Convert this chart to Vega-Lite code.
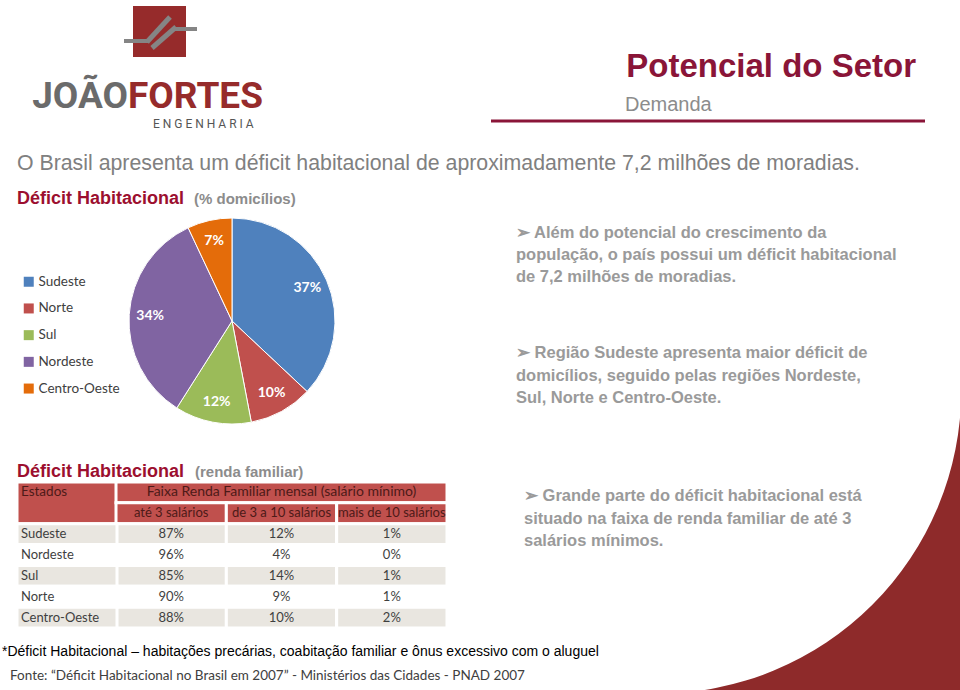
{
  "$schema": "https://vega.github.io/schema/vega-lite/v6.json",
  "padding": 0,
  "bounds": "flush",
  "spacing": 0,
  "background": "white",
  "config": {"view": {"stroke": null}, "concat": {"spacing": 0}, "text": {"font": "Liberation Sans"}},
  "datasets": {
    "regioes": [
      {"regiao": "Sudeste", "valor": 0.37, "ordem": 1},
      {"regiao": "Norte", "valor": 0.10, "ordem": 2},
      {"regiao": "Sul", "valor": 0.12, "ordem": 3},
      {"regiao": "Nordeste", "valor": 0.34, "ordem": 4},
      {"regiao": "Centro-Oeste", "valor": 0.07, "ordem": 5}
    ],
    "tabela": [
      {"estado": "Sudeste", "ate3": 0.87, "de3a10": 0.12, "mais10": 0.01},
      {"estado": "Nordeste", "ate3": 0.96, "de3a10": 0.04, "mais10": 0.00},
      {"estado": "Sul", "ate3": 0.85, "de3a10": 0.14, "mais10": 0.01},
      {"estado": "Norte", "ate3": 0.90, "de3a10": 0.09, "mais10": 0.01},
      {"estado": "Centro-Oeste", "ate3": 0.88, "de3a10": 0.10, "mais10": 0.02}
    ],
    "cabecalho": [
      {"rotulo": "Estados", "c1": "Estados", "c2": "Estados", "r1": "h1", "r2": "h2", "ct": "Estados"},
      {"rotulo": "Faixa Renda Familiar mensal (salário mínimo)", "c1": "ate3", "c2": "mais10", "r1": "h1", "r2": "h1", "ct": "de3a10"},
      {"rotulo": "até 3 salários", "c1": "ate3", "c2": "ate3", "r1": "h2", "r2": "h2", "ct": "ate3"},
      {"rotulo": "de 3 a 10 salários", "c1": "de3a10", "c2": "de3a10", "r1": "h2", "r2": "h2", "ct": "de3a10"},
      {"rotulo": "mais de 10 salários", "c1": "mais10", "c2": "mais10", "r1": "h2", "r2": "h2", "ct": "mais10"}
    ]
  },
  "vconcat": [
    {
      "width": 960,
      "height": 224,
      "layer": [
        {"data": {"values": [{}]}, "mark": {"type": "rect", "color": "#962B2B"},
         "encoding": {"x": {"value": 133}, "x2": {"value": 186}, "y": {"value": 6}, "y2": {"value": 57}}},
        {"data": {"values": [{}]}, "mark": {"type": "rule", "color": "#858585", "strokeWidth": 4, "strokeCap": "butt"},
         "encoding": {"x": {"value": 124}, "x2": {"value": 149}, "y": {"value": 41}, "y2": {"value": 41}}},
        {"data": {"values": [{}]}, "mark": {"type": "rule", "color": "#858585", "strokeWidth": 5, "strokeCap": "butt"},
         "encoding": {"x": {"value": 147}, "x2": {"value": 170}, "y": {"value": 42}, "y2": {"value": 17}}},
        {"data": {"values": [{}]}, "mark": {"type": "rule", "color": "#858585", "strokeWidth": 5, "strokeCap": "butt"},
         "encoding": {"x": {"value": 152}, "x2": {"value": 176}, "y": {"value": 48}, "y2": {"value": 27}}},
        {"data": {"values": [{}]}, "mark": {"type": "rule", "color": "#858585", "strokeWidth": 4, "strokeCap": "butt"},
         "encoding": {"x": {"value": 174}, "x2": {"value": 197}, "y": {"value": 29}, "y2": {"value": 29}}},
        {"data": {"values": [{"t": "JOÃO"}]},
         "mark": {"type": "text", "align": "right", "baseline": "alphabetic", "font": "Roboto", "fontWeight": "bold", "fontSize": 37, "color": "#6B6B6B"},
         "encoding": {"text": {"field": "t", "type": "nominal"}, "x": {"value": 128}, "y": {"value": 108}}},
        {"data": {"values": [{"t": "FORTES"}]},
         "mark": {"type": "text", "align": "left", "baseline": "alphabetic", "font": "Roboto", "fontWeight": "bold", "fontSize": 37, "color": "#962B2B"},
         "encoding": {"text": {"field": "t", "type": "nominal"}, "x": {"value": 128}, "y": {"value": 108}}},
        {"data": {"values": [{"t": "E N G E N H A R I A"}]},
         "mark": {"type": "text", "align": "left", "baseline": "alphabetic", "font": "Roboto", "fontSize": 12, "color": "#555555"},
         "encoding": {"text": {"field": "t", "type": "nominal"}, "x": {"value": 153}, "y": {"value": 128}}},
        {"data": {"values": [{"t": "Potencial do Setor"}]},
         "mark": {"type": "text", "align": "right", "baseline": "alphabetic", "fontWeight": "bold", "fontSize": 33, "color": "#8A1538"},
         "encoding": {"text": {"field": "t", "type": "nominal"}, "x": {"value": 916}, "y": {"value": 77}}},
        {"data": {"values": [{"t": "Demanda"}]},
         "mark": {"type": "text", "align": "left", "baseline": "alphabetic", "fontSize": 20, "color": "#8C8C8C"},
         "encoding": {"text": {"field": "t", "type": "nominal"}, "x": {"value": 625}, "y": {"value": 111}}},
        {"data": {"values": [{}]}, "mark": {"type": "rule", "color": "#8A1538", "strokeWidth": 3},
         "encoding": {"x": {"value": 491}, "x2": {"value": 925}, "y": {"value": 121}, "y2": {"value": 121}}},
        {"data": {"values": [{"t": "O Brasil apresenta um déficit habitacional de aproximadamente 7,2 milhões de moradias."}]},
         "mark": {"type": "text", "align": "left", "baseline": "alphabetic", "fontSize": 21.3, "color": "#808080"},
         "encoding": {"text": {"field": "t", "type": "nominal"}, "x": {"value": 17}, "y": {"value": 170}}},
        {"data": {"values": [{"t": "Déficit Habitacional"}]},
         "mark": {"type": "text", "align": "left", "baseline": "alphabetic", "fontWeight": "bold", "fontSize": 18, "color": "#9C0F2F"},
         "encoding": {"text": {"field": "t", "type": "nominal"}, "x": {"value": 17}, "y": {"value": 204}}},
        {"data": {"values": [{"t": "(% domicílios)"}]},
         "mark": {"type": "text", "align": "left", "baseline": "alphabetic", "fontWeight": "bold", "fontSize": 15, "color": "#8C8C8C"},
         "encoding": {"text": {"field": "t", "type": "nominal"}, "x": {"value": 194}, "y": {"value": 204}}},
        {"data": {"values": [{"t": "➢ Além do potencial do crescimento da\npopulação, o país possui um déficit habitacional\nde 7,2 milhões de moradias."}]},
         "mark": {"type": "text", "align": "left", "baseline": "alphabetic", "fontWeight": "bold", "fontSize": 16.5, "color": "#9A9A9A", "lineBreak": "\n", "lineHeight": 22},
         "encoding": {"text": {"field": "t", "type": "nominal"}, "x": {"value": 516}, "y": {"value": 238}}},
        {"data": {"values": [{"t": "➢ Região Sudeste apresenta maior déficit de\ndomicílios, seguido  pelas regiões Nordeste,\nSul, Norte e Centro-Oeste."}]},
         "mark": {"type": "text", "align": "left", "baseline": "alphabetic", "fontWeight": "bold", "fontSize": 16.5, "color": "#9A9A9A", "lineBreak": "\n", "lineHeight": 22.5},
         "encoding": {"text": {"field": "t", "type": "nominal"}, "x": {"value": 516}, "y": {"value": 358}}}
      ]
    },
    {
      "width": 464,
      "height": 194,
      "data": {"name": "regioes"},
      "encoding": {
        "theta": {"field": "valor", "type": "quantitative", "stack": true},
        "order": {"field": "ordem", "type": "quantitative"},
        "color": {
          "field": "regiao", "type": "nominal",
          "scale": {"domain": ["Sudeste", "Norte", "Sul", "Nordeste", "Centro-Oeste"], "range": ["#4F81BD", "#C0504D", "#9BBB59", "#8064A2", "#E46C0A"]},
          "legend": {"orient": "none", "legendX": 22, "legendY": 275, "title": null, "symbolType": "square", "symbolSize": 100, "symbolStrokeWidth": 0, "labelFont": "Lato", "labelFontSize": 13.5, "labelColor": "#404040", "rowPadding": 11.7, "labelOffset": 3}
        }
      },
      "layer": [
        {"mark": {"type": "arc", "outerRadius": 103, "stroke": "white", "strokeWidth": 1}},
        {"mark": {"type": "text", "radius": 82, "font": "Lato", "fontWeight": "bold", "fontSize": 14},
         "encoding": {"text": {"field": "valor", "type": "quantitative", "format": ".0%"}, "color": {"value": "white"}}}
      ]
    },
    {
      "width": 960,
      "height": 272,
      "resolve": {"scale": {"x": "independent"}},
      "layer": [
        {"data": {"values": [{}]},
         "mark": {"type": "arc", "theta": 1.5708, "theta2": 3.1416, "innerRadius": 303.7, "outerRadius": 470, "color": "#8E2A2A", "clip": true},
         "encoding": {"x": {"value": 657.6}, "y": {"value": -28}}},
        {"data": {"values": [{"t": "Déficit Habitacional"}]},
         "mark": {"type": "text", "align": "left", "baseline": "alphabetic", "fontWeight": "bold", "fontSize": 18, "color": "#9C0F2F"},
         "encoding": {"text": {"field": "t", "type": "nominal"}, "x": {"value": 17}, "y": {"value": 59}}},
        {"data": {"values": [{"t": "(renda familiar)"}]},
         "mark": {"type": "text", "align": "left", "baseline": "alphabetic", "fontWeight": "bold", "fontSize": 15, "color": "#8C8C8C"},
         "encoding": {"text": {"field": "t", "type": "nominal"}, "x": {"value": 195}, "y": {"value": 59}}},
        {"data": {"name": "cabecalho"},
         "transform": [{"filter": "datum.rotulo === 'Estados'"}],
         "mark": {"type": "rect", "color": "#C0504D", "stroke": "white", "strokeWidth": 3},
         "encoding": {
           "x": {"datum": "Estados", "type": "nominal", "axis": null, "scale": {"domain": ["Estados"], "range": [17, 117], "paddingInner": 0, "paddingOuter": 0}},
           "y": {"field": "r1", "type": "nominal", "bandPosition": 0, "axis": null, "scale": {"domain": ["h1", "h2", "Sudeste", "Nordeste", "Sul", "Norte", "Centro-Oeste"], "range": [64, 210], "paddingInner": 0, "paddingOuter": 0}},
           "y2": {"field": "r2", "bandPosition": 1}
         }},
        {"data": {"name": "cabecalho"},
         "transform": [{"filter": "datum.rotulo !== 'Estados'"}],
         "mark": {"type": "rect", "color": "#C0504D", "stroke": "white", "strokeWidth": 3},
         "encoding": {
           "x": {"field": "c1", "type": "nominal", "bandPosition": 0, "axis": null, "scale": {"domain": ["ate3", "de3a10", "mais10"], "range": [116, 447], "paddingInner": 0, "paddingOuter": 0}},
           "x2": {"field": "c2", "bandPosition": 1},
           "y": {"field": "r1", "type": "nominal", "bandPosition": 0, "axis": null},
           "y2": {"field": "r2", "bandPosition": 1}
         }},
        {"data": {"name": "cabecalho"},
         "transform": [{"filter": "datum.r1 === 'h1' && datum.rotulo !== 'Estados'"}],
         "mark": {"type": "text", "align": "center", "baseline": "middle", "font": "Lato", "fontSize": 14, "color": "#4D1A18"},
         "encoding": {
           "text": {"field": "rotulo", "type": "nominal"},
           "x": {"field": "ct", "type": "nominal", "axis": null, "scale": {"domain": ["ate3", "de3a10", "mais10"], "range": [116, 447], "paddingInner": 0, "paddingOuter": 0}},
           "y": {"field": "r1", "type": "nominal", "axis": null}
         }},
        {"data": {"name": "cabecalho"},
         "transform": [{"filter": "datum.r1 === 'h2'"}],
         "mark": {"type": "text", "align": "center", "baseline": "middle", "font": "Lato", "fontSize": 13, "color": "#4D1A18"},
         "encoding": {
           "text": {"field": "rotulo", "type": "nominal"},
           "x": {"field": "ct", "type": "nominal", "axis": null, "scale": {"domain": ["ate3", "de3a10", "mais10"], "range": [116, 447], "paddingInner": 0, "paddingOuter": 0}},
           "y": {"field": "r1", "type": "nominal", "axis": null}
         }},
        {"data": {"name": "cabecalho"},
         "transform": [{"filter": "datum.rotulo === 'Estados'"}],
         "mark": {"type": "text", "align": "left", "baseline": "middle", "font": "Lato", "fontSize": 13.5, "color": "#4D1A18", "dx": 4},
         "encoding": {
           "text": {"field": "rotulo", "type": "nominal"},
           "x": {"field": "ct", "type": "nominal", "axis": null, "scale": {"type": "point", "domain": ["Estados"], "range": [17, 17], "padding": 0}},
           "y": {"field": "r1", "type": "nominal", "axis": null}
         }},
        {"data": {"name": "tabela"},
         "transform": [{"fold": ["ate3", "de3a10", "mais10"], "as": ["faixa", "valor"]}],
         "mark": {"type": "rect", "stroke": "white", "strokeWidth": 3},
         "encoding": {
           "x": {"field": "faixa", "type": "nominal", "axis": null, "scale": {"domain": ["ate3", "de3a10", "mais10"], "range": [116, 447], "paddingInner": 0, "paddingOuter": 0}},
           "y": {"field": "estado", "type": "nominal", "axis": null},
           "fill": {"condition": {"test": "indexof(['Sudeste','Sul','Centro-Oeste'], datum.estado) >= 0", "value": "#E9E6E0"}, "value": "#FFFFFF"}
         }},
        {"data": {"name": "tabela"},
         "mark": {"type": "rect", "stroke": "white", "strokeWidth": 3},
         "encoding": {
           "x": {"datum": "Estados", "type": "nominal", "axis": null, "scale": {"domain": ["Estados"], "range": [17, 117], "paddingInner": 0, "paddingOuter": 0}},
           "y": {"field": "estado", "type": "nominal", "axis": null},
           "fill": {"condition": {"test": "indexof(['Sudeste','Sul','Centro-Oeste'], datum.estado) >= 0", "value": "#E9E6E0"}, "value": "#FFFFFF"}
         }},
        {"data": {"name": "tabela"},
         "transform": [{"fold": ["ate3", "de3a10", "mais10"], "as": ["faixa", "valor"]}],
         "mark": {"type": "text", "align": "center", "baseline": "middle", "font": "Lato", "fontSize": 13, "color": "#3F3F3F"},
         "encoding": {
           "text": {"field": "valor", "type": "quantitative", "format": ".0%"},
           "x": {"field": "faixa", "type": "nominal", "axis": null, "scale": {"domain": ["ate3", "de3a10", "mais10"], "range": [116, 447], "paddingInner": 0, "paddingOuter": 0}},
           "y": {"field": "estado", "type": "nominal", "axis": null}
         }},
        {"data": {"name": "tabela"},
         "mark": {"type": "text", "align": "left", "baseline": "middle", "font": "Lato", "fontSize": 13, "color": "#3F3F3F", "dx": 4},
         "encoding": {
           "text": {"field": "estado", "type": "nominal"},
           "x": {"datum": "Estados", "type": "nominal", "axis": null, "scale": {"type": "point", "domain": ["Estados"], "range": [17, 17], "padding": 0}},
           "y": {"field": "estado", "type": "nominal", "axis": null}
         }},
        {"data": {"values": [{"t": "➢ Grande parte do déficit habitacional está\nsituado na faixa de renda familiar de até 3\nsalários mínimos."}]},
         "mark": {"type": "text", "align": "left", "baseline": "alphabetic", "fontWeight": "bold", "fontSize": 16.5, "color": "#9A9A9A", "lineBreak": "\n", "lineHeight": 22.5},
         "encoding": {"text": {"field": "t", "type": "nominal"}, "x": {"value": 524}, "y": {"value": 83}}},
        {"data": {"values": [{"t": "*Déficit Habitacional – habitações precárias, coabitação familiar e ônus excessivo com o aluguel"}]},
         "mark": {"type": "text", "align": "left", "baseline": "alphabetic", "fontSize": 14, "color": "#000000"},
         "encoding": {"text": {"field": "t", "type": "nominal"}, "x": {"value": 2}, "y": {"value": 238}}},
        {"data": {"values": [{"t": "Fonte: “Déficit Habitacional no Brasil em 2007” - Ministérios das Cidades - PNAD 2007"}]},
         "mark": {"type": "text", "align": "left", "baseline": "alphabetic", "font": "Lato", "fontSize": 13.5, "color": "#404040"},
         "encoding": {"text": {"field": "t", "type": "nominal"}, "x": {"value": 10}, "y": {"value": 262}}}
      ]
    }
  ]
}
